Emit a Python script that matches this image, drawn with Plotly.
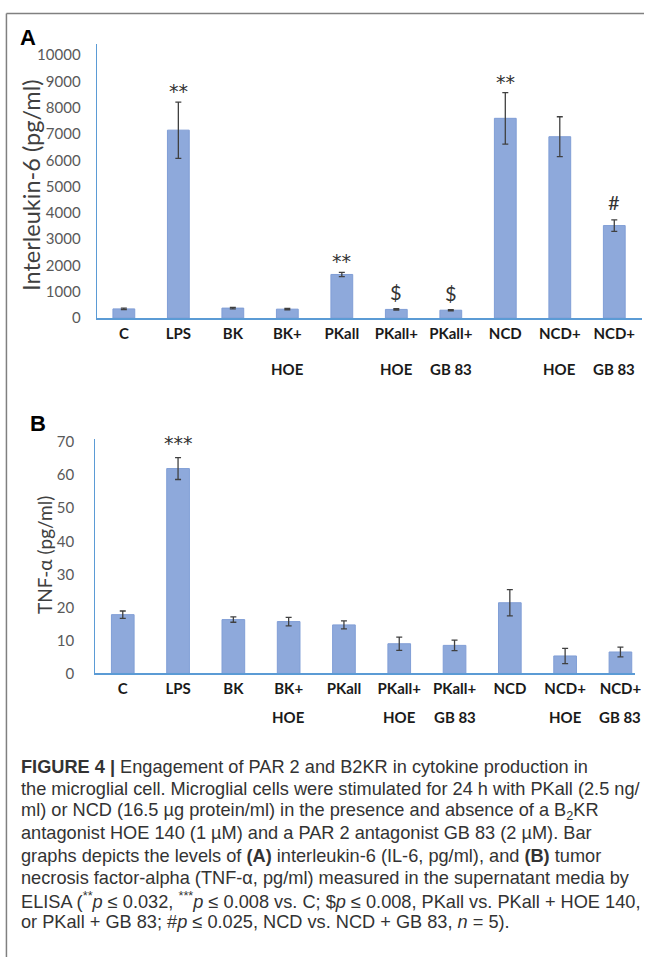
import plotly.graph_objects as go

# ---------------- data ----------------
labels_line1 = ["C", "LPS", "BK", "BK+", "PKall", "PKall+", "PKall+", "NCD", "NCD+", "NCD+"]
labels_line2 = ["", "", "", "HOE", "", "HOE", "GB 83", "", "HOE", "GB 83"]

il6_mean = [350, 7150, 380, 340, 1660, 330, 300, 7600, 6900, 3520]
il6_err = [30, 1070, 30, 25, 80, 25, 25, 980, 760, 220]
il6_sig = ["", "**", "", "", "**", "$", "$", "**", "", "#"]

tnf_mean = [17.8, 62.0, 16.3, 15.7, 14.7, 9.0, 8.5, 21.4, 5.3, 6.5]
tnf_err = [1.1, 3.3, 0.8, 1.3, 1.2, 2.0, 1.6, 4.0, 2.3, 1.5]
tnf_sig = ["", "***", "", "", "", "", "", "", "", ""]

il6_ticks = list(range(0, 10001, 1000))
tnf_ticks = list(range(0, 71, 10))

caption_lines = [
    "<b>FIGURE 4 |</b> Engagement of PAR 2 and B2KR in cytokine production in",
    "the microglial cell. Microglial cells were stimulated for 24 h with PKall (2.5 ng/",
    "ml) or NCD (16.5 µg protein/ml) in the presence and absence of a B<sub>2</sub>KR",
    "antagonist HOE 140 (1 µM) and a PAR 2 antagonist GB 83 (2 µM). Bar",
    "graphs depicts the levels of <b>(A)</b> interleukin-6 (IL-6, pg/ml), and <b>(B)</b> tumor",
    "necrosis factor-alpha (TNF-α, pg/ml) measured in the supernatant media by",
    "ELISA (<sup>**</sup><i>p</i> ≤ 0.032, <sup>***</sup><i>p</i> ≤ 0.008 vs. C; $<i>p</i> ≤ 0.008, PKall vs. PKall + HOE 140,",
    "or PKall + GB 83; #<i>p</i> ≤ 0.025, NCD vs. NCD + GB 83, <i>n</i> = 5).",
]

# ---------------- layout helpers ----------------
W, H = 651, 965
def px(x):
    return x / W
def py(y):
    return 1 - y / H

BAR_COLOR = "rgb(142,169,219)"
BAR_LINE = "rgb(128,158,214)"
AXIS_BLUE = "rgb(91,155,213)"
ERR_COLOR = "#404040"
TICK_FONT = "Lato, Open Sans, sans-serif"

fig = go.Figure()
xs = list(range(len(labels_line1)))

fig.add_trace(go.Bar(
    x=xs, y=il6_mean, width=0.4,
    marker=dict(color=BAR_COLOR, line=dict(color=BAR_LINE, width=1)),
    error_y=dict(type="data", array=il6_err, color=ERR_COLOR, thickness=1.3, width=3),
    xaxis="x", yaxis="y", showlegend=False, hoverinfo="skip",
))
fig.add_trace(go.Bar(
    x=xs, y=tnf_mean, width=0.41,
    marker=dict(color=BAR_COLOR, line=dict(color=BAR_LINE, width=1)),
    error_y=dict(type="data", array=tnf_err, color=ERR_COLOR, thickness=1.3, width=3),
    xaxis="x2", yaxis="y2", showlegend=False, hoverinfo="skip",
))

# Panel A geometry (pixels)
A_x0, A_x1 = 97.5, 647.5
A_base, A_top, A_10k = 316, 38, 49
A_ymax = 10000 * (A_base - A_top) / (A_base - A_10k)
# Panel B geometry
B_x0, B_x1 = 96, 641
B_c0, B_step = 124, 55.8
B_base, B_top, B_70 = 677, 439, 442
B_ymax = 70 * (B_base - B_top) / (B_base - B_70)
B_xmax = (B_x1 - B_c0) / B_step

xcommon = dict(
    tickmode="array", tickvals=xs, ticktext=labels_line1,
    tickfont=dict(family=TICK_FONT, size=15, color="#1a1a1a", weight="bold"),
    showline=True, linecolor=AXIS_BLUE, linewidth=2, ticks="", showgrid=False,
    zeroline=False, fixedrange=True,
)
ycommon = dict(
    tickfont=dict(family=TICK_FONT, size=15, color="#595959"),
    showline=True, linecolor=AXIS_BLUE, linewidth=1, ticks="", showgrid=False,
    zeroline=False, fixedrange=True, tickformat="d",
)

fig.update_layout(
    width=W, height=H,
    margin=dict(l=0, r=0, t=0, b=0),
    paper_bgcolor="white", plot_bgcolor="white",
    xaxis=dict(domain=[px(A_x0), px(A_x1)], range=[-0.5, 9.5], anchor="y",
               ticklabelstandoff=1, **xcommon),
    yaxis=dict(domain=[py(A_base), py(A_top)], range=[0, A_ymax], anchor="x",
               tickvals=il6_ticks, ticklabelstandoff=12, **ycommon),
    xaxis2=dict(domain=[px(B_x0), px(B_x1)],
                range=[-0.5, B_xmax], anchor="y2", ticklabelstandoff=1, **xcommon),
    yaxis2=dict(domain=[py(B_base), py(B_top)], range=[0, B_ymax], anchor="x2",
                tickvals=tnf_ticks, ticklabelstandoff=17, **ycommon),
    bargap=0.6,
)

ann = []
# second line of category labels
for i, t in enumerate(labels_line2):
    if t:
        ann.append(dict(x=i, xref="x", y=py(368), yref="paper", text=t, showarrow=False,
                        font=dict(family=TICK_FONT, size=15, color="#1a1a1a", weight="bold"),
                        xanchor="center", yanchor="middle"))
        ann.append(dict(x=i, xref="x2", y=py(721), yref="paper", text=t, showarrow=False,
                        font=dict(family=TICK_FONT, size=15, color="#1a1a1a", weight="bold"),
                        xanchor="center", yanchor="middle"))

# significance marks
shift = {"**": 11, "***": 15, "$": 17, "#": 18}
sigfont = {"**": ("DejaVu Sans", 19), "***": ("DejaVu Sans", 19),
           "$": (TICK_FONT, 20), "#": (TICK_FONT, 20)}
for i, s in enumerate(il6_sig):
    if s:
        fam, sz = sigfont[s]
        ann.append(dict(x=i, xref="x", y=il6_mean[i] + il6_err[i], yref="y",
                        text="<span>" + s + "</span>", showarrow=False, yanchor="middle",
                        yshift=shift[s], font=dict(family=fam, size=sz, color="#333333")))
for i, s in enumerate(tnf_sig):
    if s:
        fam, sz = sigfont[s]
        ann.append(dict(x=i, xref="x2", y=tnf_mean[i] + tnf_err[i], yref="y2",
                        text="<span>" + s + "</span>", showarrow=False, yanchor="middle",
                        yshift=shift[s], font=dict(family=fam, size=sz, color="#333333")))

# panel letters
ann.append(dict(x=px(28), y=py(31), xref="paper", yref="paper", text="<b>A</b>",
                showarrow=False, xanchor="center", yanchor="middle",
                font=dict(family="Liberation Sans, Arial", size=22, color="black")))
ann.append(dict(x=px(38.5), y=py(423.5), xref="paper", yref="paper", text="<b>B</b>",
                showarrow=False, xanchor="center", yanchor="middle",
                font=dict(family="Liberation Sans, Arial", size=22, color="black")))

# y-axis titles
ann.append(dict(x=px(31), y=py(181), xref="paper", yref="paper",
                text="Interleukin-6 (pg/ml)", textangle=-90, showarrow=False,
                xanchor="center", yanchor="middle",
                font=dict(family=TICK_FONT, size=23.5, color="#404040")))
ann.append(dict(x=px(45), y=py(557), xref="paper", yref="paper",
                text="TNF-α (pg/ml)", textangle=-90, showarrow=False,
                xanchor="center", yanchor="middle",
                font=dict(family=TICK_FONT, size=19, color="#404040")))

# caption
for k, line in enumerate(caption_lines):
    ann.append(dict(x=px(19), y=py(771.7 + 22.6 * k), xref="paper", yref="paper",
                    text=line, showarrow=False, xanchor="left", yanchor="middle",
                    font=dict(family="Liberation Sans Narrow, Liberation Sans, Arial",
                              size=18.2, color="#333333")))

fig.update_layout(annotations=ann)

# frame (top and left border)
fig.add_shape(type="line", xref="paper", yref="paper", x0=px(6.5), x1=px(650),
              y0=py(6.5), y1=py(6.5), line=dict(color="#808080", width=1.5))
fig.add_shape(type="line", xref="paper", yref="paper", x0=px(6.5), x1=px(6.5),
              y0=py(6.5), y1=0, line=dict(color="#808080", width=1.5))

fig.write_html(
    "out.html",
    config={"displayModeBar": False},
    post_script="document.body.style.margin='0';document.documentElement.style.overflow='hidden';",
)
